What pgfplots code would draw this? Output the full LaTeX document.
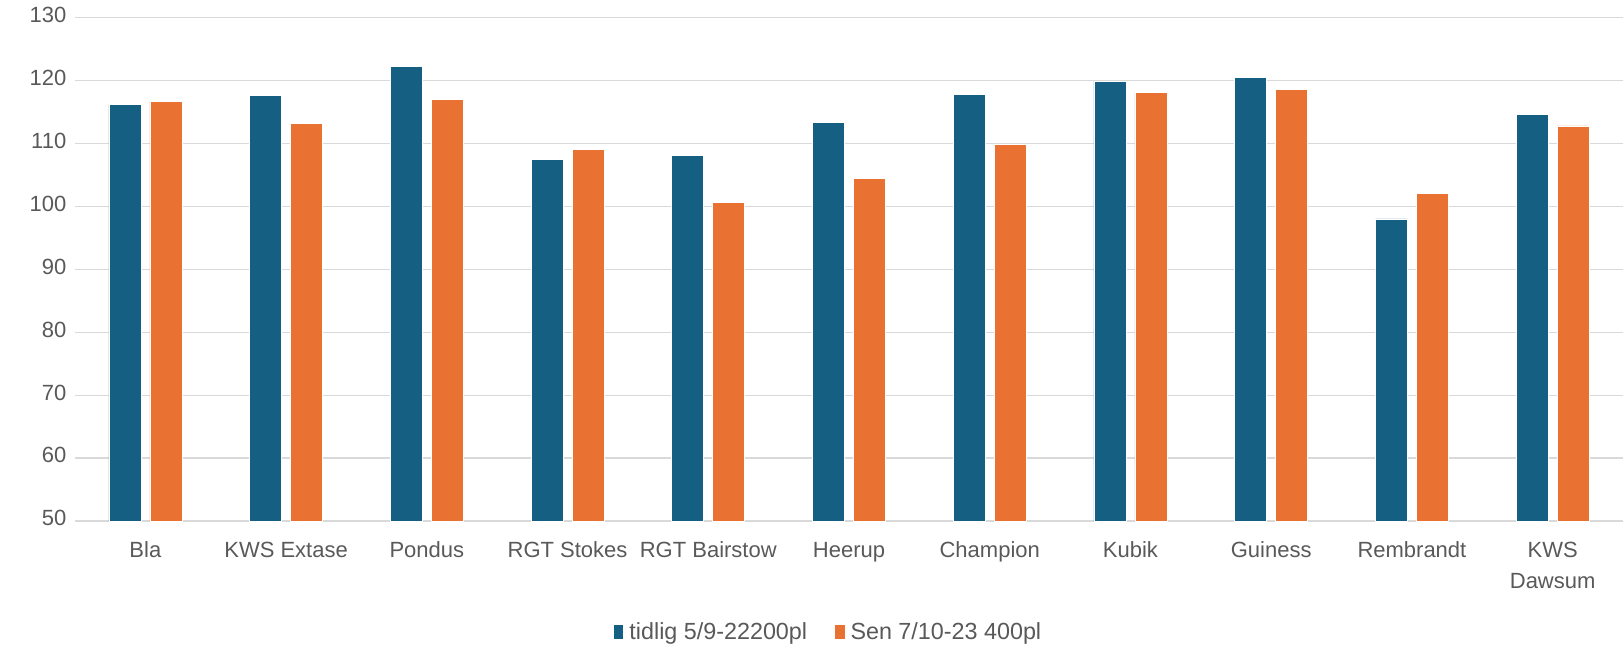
\documentclass[border=0pt]{standalone}
\usepackage{pgfplots}
\pgfplotsset{compat=1.18}
\usepackage{fontspec}
\setmainfont{Liberation Sans}
\definecolor{cblue}{HTML}{156082}
\definecolor{corange}{HTML}{E97132}
\definecolor{cgrid}{HTML}{D9D9D9}
\definecolor{ctext}{HTML}{595959}
\begin{document}
\begin{tikzpicture}
\useasboundingbox (-56.25pt,-94.5pt) rectangle (1161pt,390.8pt);
\begin{axis}[
  at={(0,0)}, anchor=south west,
  scale only axis, width=1161pt, height=377.6pt,
  ybar=6.75pt, bar width=24pt,
  xmin=-0.5, xmax=10.5, ymin=50, ymax=130,
  ytick={50,60,...,130},
  xtick={0,...,10},
  xticklabels={Bla,KWS Extase,Pondus,RGT Stokes,RGT Bairstow,Heerup,Champion,Kubik,Guiness,Rembrandt,KWS\\Dawsum},
  xticklabel style={align=center, font=\fontsize{16.5}{23}\selectfont, text=ctext, anchor=north, yshift=-8pt},
  typeset ticklabels with strut,
  yticklabel style={font=\fontsize{16.5}{18}\selectfont, text=ctext, xshift=-3pt},
  /pgf/number format/assume math mode=true,
  major tick length=0pt,
  axis line style={draw=none},
  ymajorgrids, grid style={cgrid, line width=1pt},
  axis x line*=bottom, axis y line*=left,
  legend style={at={(566pt,-83pt)}, anchor=center, draw=none, legend columns=2,
    font=\fontsize{17.5}{19}\selectfont, text=ctext,
    nodes={inner xsep=4pt},
    /tikz/every even column/.append style={column sep=16pt}},
  legend image code/.code={\fill[#1] (0pt,-5.5pt) rectangle (8pt,5.5pt);},
]
\draw[cgrid, line width=1pt] (rel axis cs:0,0) -- (rel axis cs:1,0);
\addplot[fill=cblue, draw=white, line width=0.5pt] coordinates {
(0,116.2) (1,117.7) (2,122.2) (3,107.5) (4,108.1) (5,113.3) (6,117.8) (7,119.9) (8,120.5) (9,98.0) (10,114.6)};
\addplot[fill=corange, draw=white, line width=0.5pt] coordinates {
(0,116.7) (1,113.2) (2,117.0) (3,109.1) (4,100.7) (5,104.4) (6,109.9) (7,118.1) (8,118.6) (9,102.0) (10,112.8)};
\legend{tidlig 5/9-22200pl, Sen 7/10-23 400pl}
\end{axis}
\end{tikzpicture}
\end{document}
